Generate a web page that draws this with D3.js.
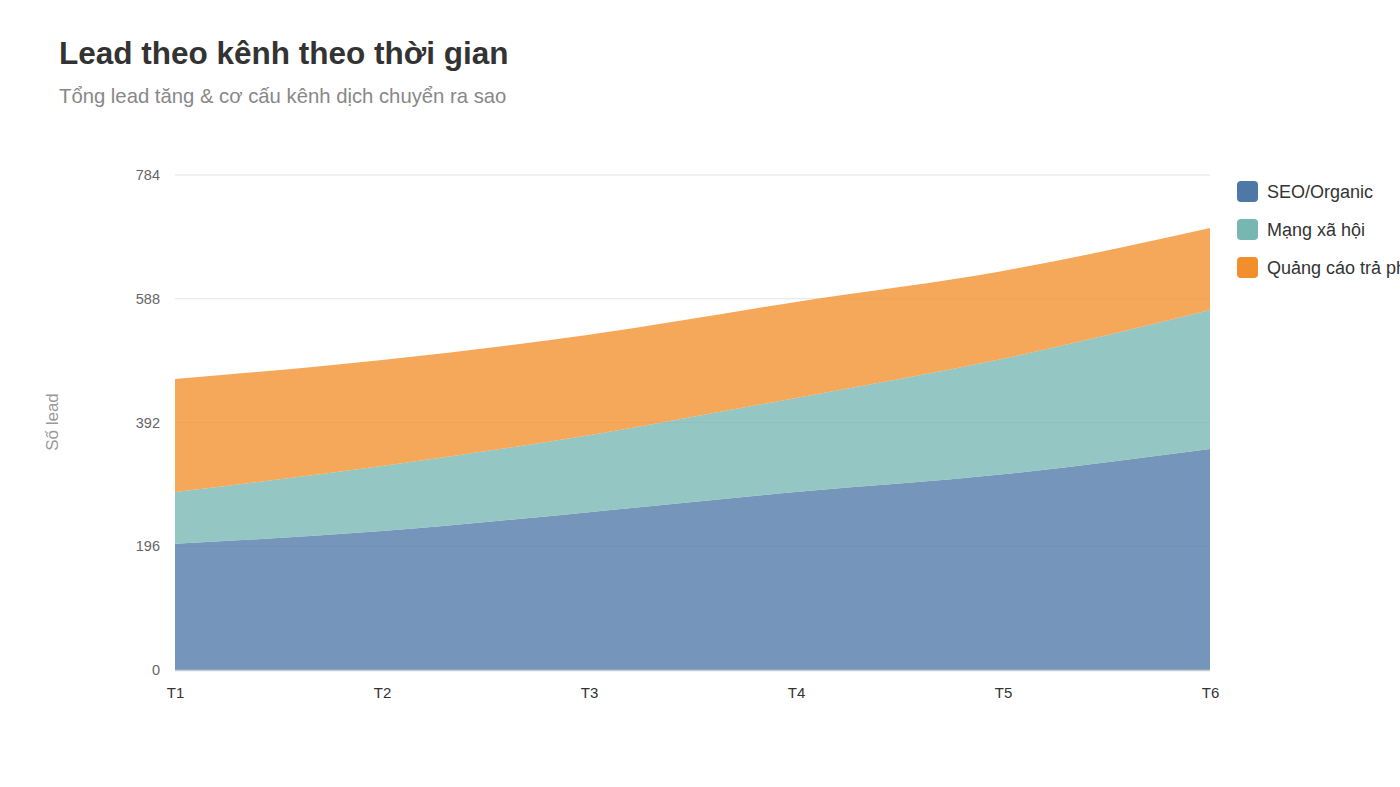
<!DOCTYPE html>
<html>
<head>
<meta charset="utf-8">
<script src="https://cdn.jsdelivr.net/npm/d3@7"></script>
<style>
  body{margin:0;background:#fff;font-family:"Liberation Sans",Arial,sans-serif;overflow:hidden;}
</style>
</head>
<body>
<svg id="chart" width="1400" height="787"></svg>
<script>
// data
var months=["T1","T2","T3","T4","T5","T6"];
var seo=[200,220,250,282,310,350];
var social=[82,103,122,149,183,220];
var paid=[179,168,159,152,139,130];
var seriesNames=["SEO/Organic","Mạng xã hội","Quảng cáo trả phí"];
var seriesColors=["#4e79a7","#76b7b2","#f28e2b"];
var yTicks=[0,196,392,588,784];

var svg=d3.select("#chart");
var m={left:175,right:1210,top:175,bottom:670};

// title block
svg.append("text").attr("x",59).attr("y",64)
  .style("font-size","31.5px").style("font-weight","bold").style("fill","#333")
  .text("Lead theo kênh theo thời gian");
svg.append("text").attr("x",59).attr("y",103)
  .style("font-size","20.3px").style("fill","#888")
  .text("Tổng lead tăng & cơ cấu kênh dịch chuyển ra sao");

var x=d3.scalePoint().domain(months).range([m.left,m.right]);
var y=d3.scaleLinear().domain([0,784]).range([m.bottom,m.top]);

// gridlines
svg.append("g").selectAll("line").data(yTicks.slice(1)).join("line")
  .attr("x1",m.left).attr("x2",m.right)
  .attr("y1",function(d){return y(d);}).attr("y2",function(d){return y(d);})
  .style("stroke","#e3e3e3").style("stroke-width",1);

// stacked areas
var rows=months.map(function(mo,i){return {m:mo,s0:seo[i],s1:social[i],s2:paid[i]};});
var stack=d3.stack().keys(["s0","s1","s2"]);
var layers=stack(rows);
var area=d3.area()
  .x(function(d){return x(d.data.m);})
  .y0(function(d){return y(d[0]);})
  .y1(function(d){return y(d[1]);})
  .curve(d3.curveMonotoneX);
svg.append("g").selectAll("path").data(layers).join("path")
  .attr("d",area)
  .style("fill",function(d,i){return seriesColors[i];})
  .style("fill-opacity",0.78);

// axes
var yAxis=svg.append("g").attr("transform","translate("+(m.left-15)+",0)")
  .call(d3.axisLeft(y).tickValues(yTicks).tickSize(0).tickPadding(0));
yAxis.select(".domain").remove();
yAxis.selectAll("text").style("font-size","14.5px").style("fill","#666")
  .style("font-family","'Liberation Sans',Arial,sans-serif");

svg.append("line").attr("x1",m.left).attr("x2",m.right)
  .attr("y1",m.bottom+0.5).attr("y2",m.bottom+0.5)
  .style("stroke","#ccc").style("stroke-width",1.5);

var xAxis=svg.append("g").attr("transform","translate(0,"+m.bottom+")")
  .call(d3.axisBottom(x).tickSize(0).tickPadding(17));
xAxis.select(".domain").remove();
xAxis.selectAll("text").style("font-size","15px").style("fill","#333")
  .style("font-family","'Liberation Sans',Arial,sans-serif");

// y title
svg.append("text").attr("transform","translate(58,422) rotate(-90)")
  .attr("text-anchor","middle").style("font-size","17px").style("fill","#999")
  .text("Số lead");

// legend
var lg=svg.append("g").selectAll("g").data(seriesNames).join("g")
  .attr("transform",function(d,i){return "translate(1237,"+(181+i*38)+")";});
lg.append("rect").attr("width",21).attr("height",21).attr("rx",4)
  .style("fill",function(d,i){return seriesColors[i];});
lg.append("text").attr("x",30).attr("y",16.5)
  .style("font-size","18px").style("fill","#333").text(function(d){return d;});
</script>
</body>
</html>
